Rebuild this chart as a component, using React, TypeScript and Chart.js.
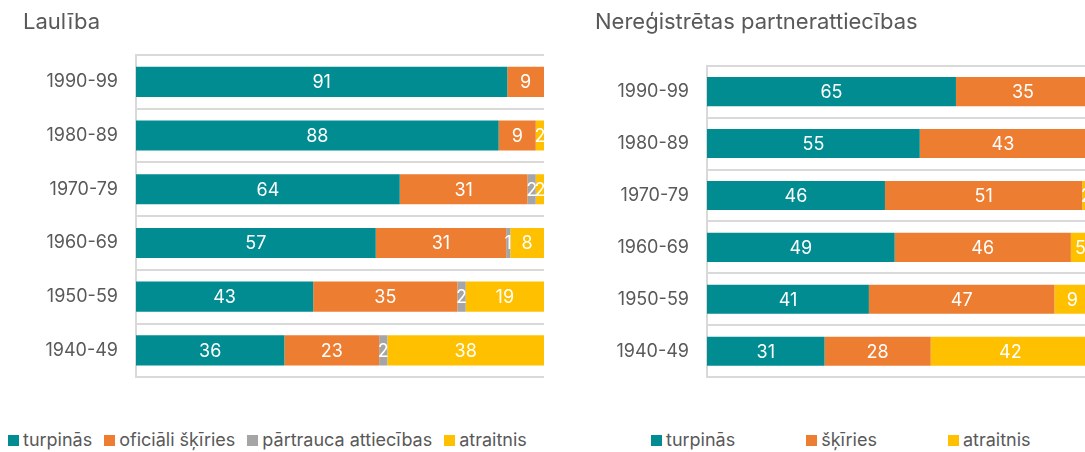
import React, { useEffect, useRef, useState } from 'react';
import { Chart, registerables } from 'chart.js';

Chart.register(...registerables);

// ---------- data ----------
const periods = ['1990-99', '1980-89', '1970-79', '1960-69', '1950-59', '1940-49'];

const marriageTitle = 'Laulība';
const marriageContinues = [91, 88, 64, 57, 43, 36];
const marriageDivorced = [9, 9, 31, 31, 35, 23];
const marriageSeparated = [0, 0, 2, 1, 2, 2];
const marriageWidowed = [0, 2, 2, 8, 19, 38];

const cohabTitle = 'Nereģistrētas partnerattiecības';
const cohabContinues = [65, 55, 46, 49, 41, 31];
const cohabSplit = [35, 43, 51, 46, 47, 28];
const cohabWidowed = [0, 1, 2, 5, 9, 42];

const TEAL = '#008C91';
const ORANGE = '#ED7D31';
const GRAY = '#A5A5A5';
const YELLOW = '#FFC000';
const TEXT = '#595959';
const GRID = '#d9d9d9';
const FONT = 'Inter, "Noto Sans", sans-serif';

type Series = { label: string; values: number[]; color: string };

const marriageSeries: Series[] = [
  { label: 'turpinās', values: marriageContinues, color: TEAL },
  { label: 'oficiāli šķīries', values: marriageDivorced, color: ORANGE },
  { label: 'pārtrauca attiecības', values: marriageSeparated, color: GRAY },
  { label: 'atraitnis', values: marriageWidowed, color: YELLOW },
];

const cohabSeries: Series[] = [
  { label: 'turpinās', values: cohabContinues, color: TEAL },
  { label: 'šķīries', values: cohabSplit, color: ORANGE },
  { label: 'atraitnis', values: cohabWidowed, color: YELLOW },
];

// value labels drawn in the middle of each segment
const valueLabels = {
  id: 'valueLabels',
  afterDatasetsDraw(chart: any) {
    const { ctx } = chart;
    ctx.save();
    ctx.font = `18px ${FONT}`;
    ctx.fillStyle = '#ffffff';
    ctx.textAlign = 'center';
    ctx.textBaseline = 'middle';
    chart.data.datasets.forEach((ds: any, di: number) => {
      const meta = chart.getDatasetMeta(di);
      meta.data.forEach((el: any, i: number) => {
        const raw = ds.rawValues[i];
        if (!raw) return;
        const { x, base, y } = el.getProps(['x', 'base', 'y'], true);
        ctx.fillText(String(raw), (x + base) / 2, y + 1);
      });
    });
    ctx.restore();
  },
};

type PanelProps = {
  title: string;
  series: Series[];
  left: number;
  width: number;
  padLeft: number;
  axisWidth: number;
  titleBottom: number;
  legendLeft: number;
  legendGap: number;
};

const CANVAS_H = 406;

function Panel(p: PanelProps) {
  const ref = useRef<HTMLCanvasElement>(null);
  const [items, setItems] = useState<any[]>([]);

  useEffect(() => {
    if (!ref.current) return;
    const totals = periods.map((_, i) => p.series.reduce((s, se) => s + se.values[i], 0));
    const chart = new Chart(ref.current, {
      type: 'bar',
      data: {
        labels: periods,
        datasets: p.series.map((s) => ({
          label: s.label,
          data: s.values.map((v, i) => (v / totals[i]) * 100),
          rawValues: s.values,
          backgroundColor: s.color,
          borderWidth: 0,
          barPercentage: 0.56,
          categoryPercentage: 1,
        })) as any,
      },
      options: {
        indexAxis: 'y',
        responsive: false,
        animation: false,
        layout: { padding: { left: p.padLeft, top: 0, right: 0, bottom: 0 } },
        scales: {
          x: { stacked: true, min: 0, max: 100, display: false },
          y: {
            stacked: true,
            afterFit: (scale: any) => {
              scale.width = p.axisWidth;
            },
            grid: { display: true, offset: true, color: GRID, lineWidth: 2, drawTicks: false },
            border: { display: true, color: GRID, width: 2 },
            ticks: { color: TEXT, padding: 18, font: { family: FONT, size: 18 } },
          },
        },
        plugins: {
          legend: { display: false },
          tooltip: { enabled: false },
          title: {
            display: true,
            text: p.title,
            align: 'start',
            color: TEXT,
            font: { family: FONT, size: 22, weight: 'normal' },
            padding: { top: 9, bottom: p.titleBottom },
          },
        },
      },
      plugins: [valueLabels],
    } as any);
    const gen = (Chart.defaults as any).plugins.legend.labels.generateLabels(chart);
    setItems(gen.map((g: any) => ({ text: g.text, color: g.fillStyle })));
    return () => chart.destroy();
  }, []);

  return (
    <>
      <canvas
        ref={ref}
        width={p.width}
        height={CANVAS_H}
        style={{ position: 'absolute', left: p.left, top: 0, width: p.width, height: CANVAS_H }}
      />
      <div
        style={{
          position: 'absolute',
          left: p.legendLeft,
          top: 430,
          display: 'flex',
          alignItems: 'center',
          whiteSpace: 'nowrap',
          fontFamily: FONT,
          fontSize: 18,
          lineHeight: '20px',
          color: TEXT,
        }}
      >
        {items.map((it, i) => (
          <div key={i} style={{ display: 'flex', alignItems: 'center', marginRight: p.legendGap }}>
            <span style={{ display: 'inline-block', width: 11, height: 11, background: it.color, marginRight: 4 }} />
            <span>{it.text}</span>
          </div>
        ))}
      </div>
    </>
  );
}

export default function App() {
  return (
    <div
      style={{
        position: 'fixed',
        left: 0,
        top: 0,
        width: 1085,
        height: 452,
        overflow: 'hidden',
        background: '#ffffff',
      }}
    >
      <Panel
        title={marriageTitle}
        series={marriageSeries}
        left={0}
        width={544}
        padLeft={23}
        axisWidth={113}
        titleBottom={19.6}
        legendLeft={8}
        legendGap={12}
      />
      <Panel
        title={cohabTitle}
        series={cohabSeries}
        left={560}
        width={530}
        padLeft={35}
        axisWidth={112}
        titleBottom={30.3}
        legendLeft={651}
        legendGap={71}
      />
    </div>
  );
}
